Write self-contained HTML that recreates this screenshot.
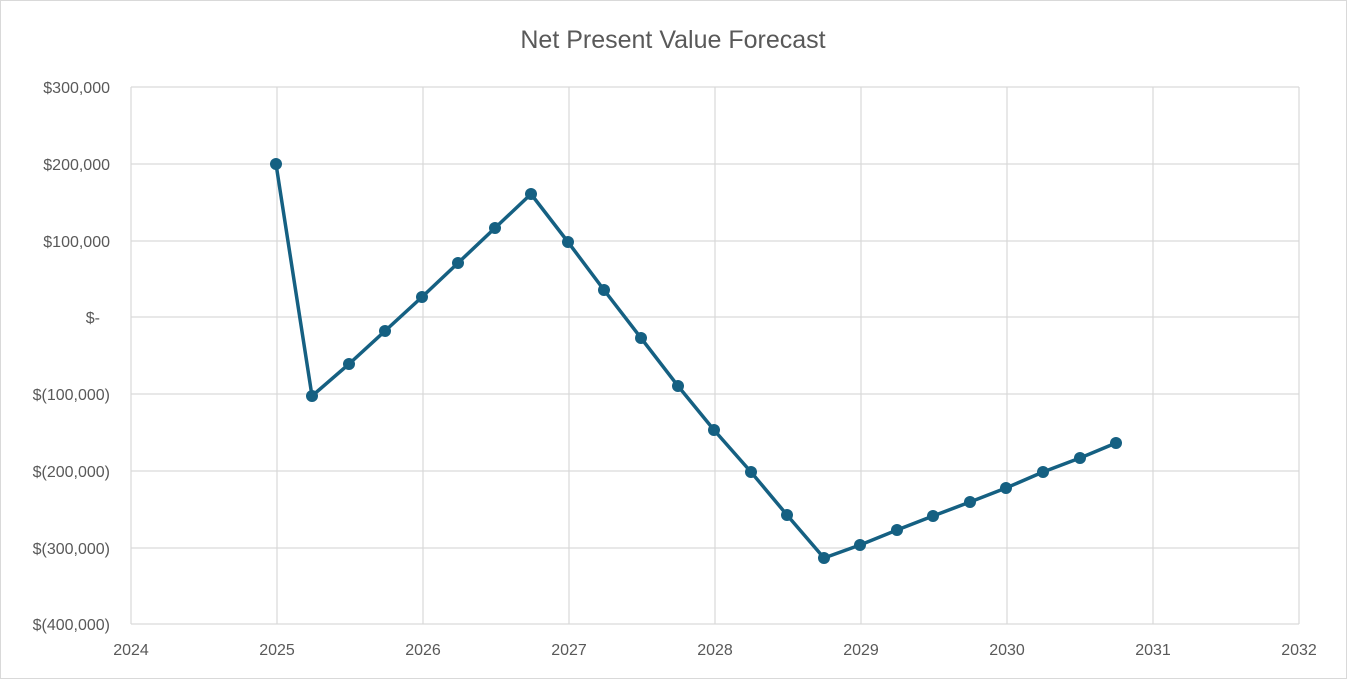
<!DOCTYPE html>
<html><head><meta charset="utf-8"><style>
body{margin:0;background:#fff}
svg{display:block}
text{font-family:"Liberation Sans",sans-serif;fill:#595959}
</style></head><body>
<svg width="1350" height="682" viewBox="0 0 1350 682">
<rect x="0.5" y="0.5" width="1346" height="678" fill="#fff" stroke="#d9d9d9"/>
<text x="673" y="48" font-size="25" text-anchor="middle">Net Present Value Forecast</text>
<g stroke="#d9d9d9" stroke-width="1.2">
<line x1="131" y1="87" x2="1299" y2="87"/><line x1="131" y1="164" x2="1299" y2="164"/>
<line x1="131" y1="241" x2="1299" y2="241"/><line x1="131" y1="317" x2="1299" y2="317"/>
<line x1="131" y1="394" x2="1299" y2="394"/><line x1="131" y1="471" x2="1299" y2="471"/>
<line x1="131" y1="548" x2="1299" y2="548"/><line x1="131" y1="624" x2="1299" y2="624"/>
<line x1="131" y1="87" x2="131" y2="624"/><line x1="277" y1="87" x2="277" y2="624"/>
<line x1="423" y1="87" x2="423" y2="624"/><line x1="569" y1="87" x2="569" y2="624"/>
<line x1="715" y1="87" x2="715" y2="624"/><line x1="861" y1="87" x2="861" y2="624"/>
<line x1="1007" y1="87" x2="1007" y2="624"/><line x1="1153" y1="87" x2="1153" y2="624"/>
<line x1="1299" y1="87" x2="1299" y2="624"/>
</g>
<g font-size="16" text-anchor="end">
<text x="110" y="93">$300,000</text><text x="110" y="170">$200,000</text>
<text x="110" y="247">$100,000</text><text x="100" y="323">$-</text>
<text x="110" y="400">$(100,000)</text><text x="110" y="477">$(200,000)</text>
<text x="110" y="554">$(300,000)</text><text x="110" y="630">$(400,000)</text>
</g>
<g font-size="16" text-anchor="middle">
<text x="131" y="655">2024</text><text x="277" y="655">2025</text><text x="423" y="655">2026</text>
<text x="569" y="655">2027</text><text x="715" y="655">2028</text><text x="861" y="655">2029</text>
<text x="1007" y="655">2030</text><text x="1153" y="655">2031</text><text x="1299" y="655">2032</text>
</g>
<g id="pts">
<polyline fill="none" stroke="#156082" stroke-width="3.5" stroke-linejoin="round" points="276,164 312,396 349,364 385,331 422,297 458,263 495,228 531,194 568,242 604,290 641,338 678,386 714,430 751,472 787,515 824,558 860,545 897,530 933,516 970,502 1006,488 1043,472 1080,458 1116,443"/>
<g fill="#156082">
<circle cx="276" cy="164" r="6"/><circle cx="312" cy="396" r="6"/><circle cx="349" cy="364" r="6"/><circle cx="385" cy="331" r="6"/><circle cx="422" cy="297" r="6"/><circle cx="458" cy="263" r="6"/><circle cx="495" cy="228" r="6"/><circle cx="531" cy="194" r="6"/><circle cx="568" cy="242" r="6"/><circle cx="604" cy="290" r="6"/><circle cx="641" cy="338" r="6"/><circle cx="678" cy="386" r="6"/><circle cx="714" cy="430" r="6"/><circle cx="751" cy="472" r="6"/><circle cx="787" cy="515" r="6"/><circle cx="824" cy="558" r="6"/><circle cx="860" cy="545" r="6"/><circle cx="897" cy="530" r="6"/><circle cx="933" cy="516" r="6"/><circle cx="970" cy="502" r="6"/><circle cx="1006" cy="488" r="6"/><circle cx="1043" cy="472" r="6"/><circle cx="1080" cy="458" r="6"/><circle cx="1116" cy="443" r="6"/>
</g></g>
</svg>
</body></html>
